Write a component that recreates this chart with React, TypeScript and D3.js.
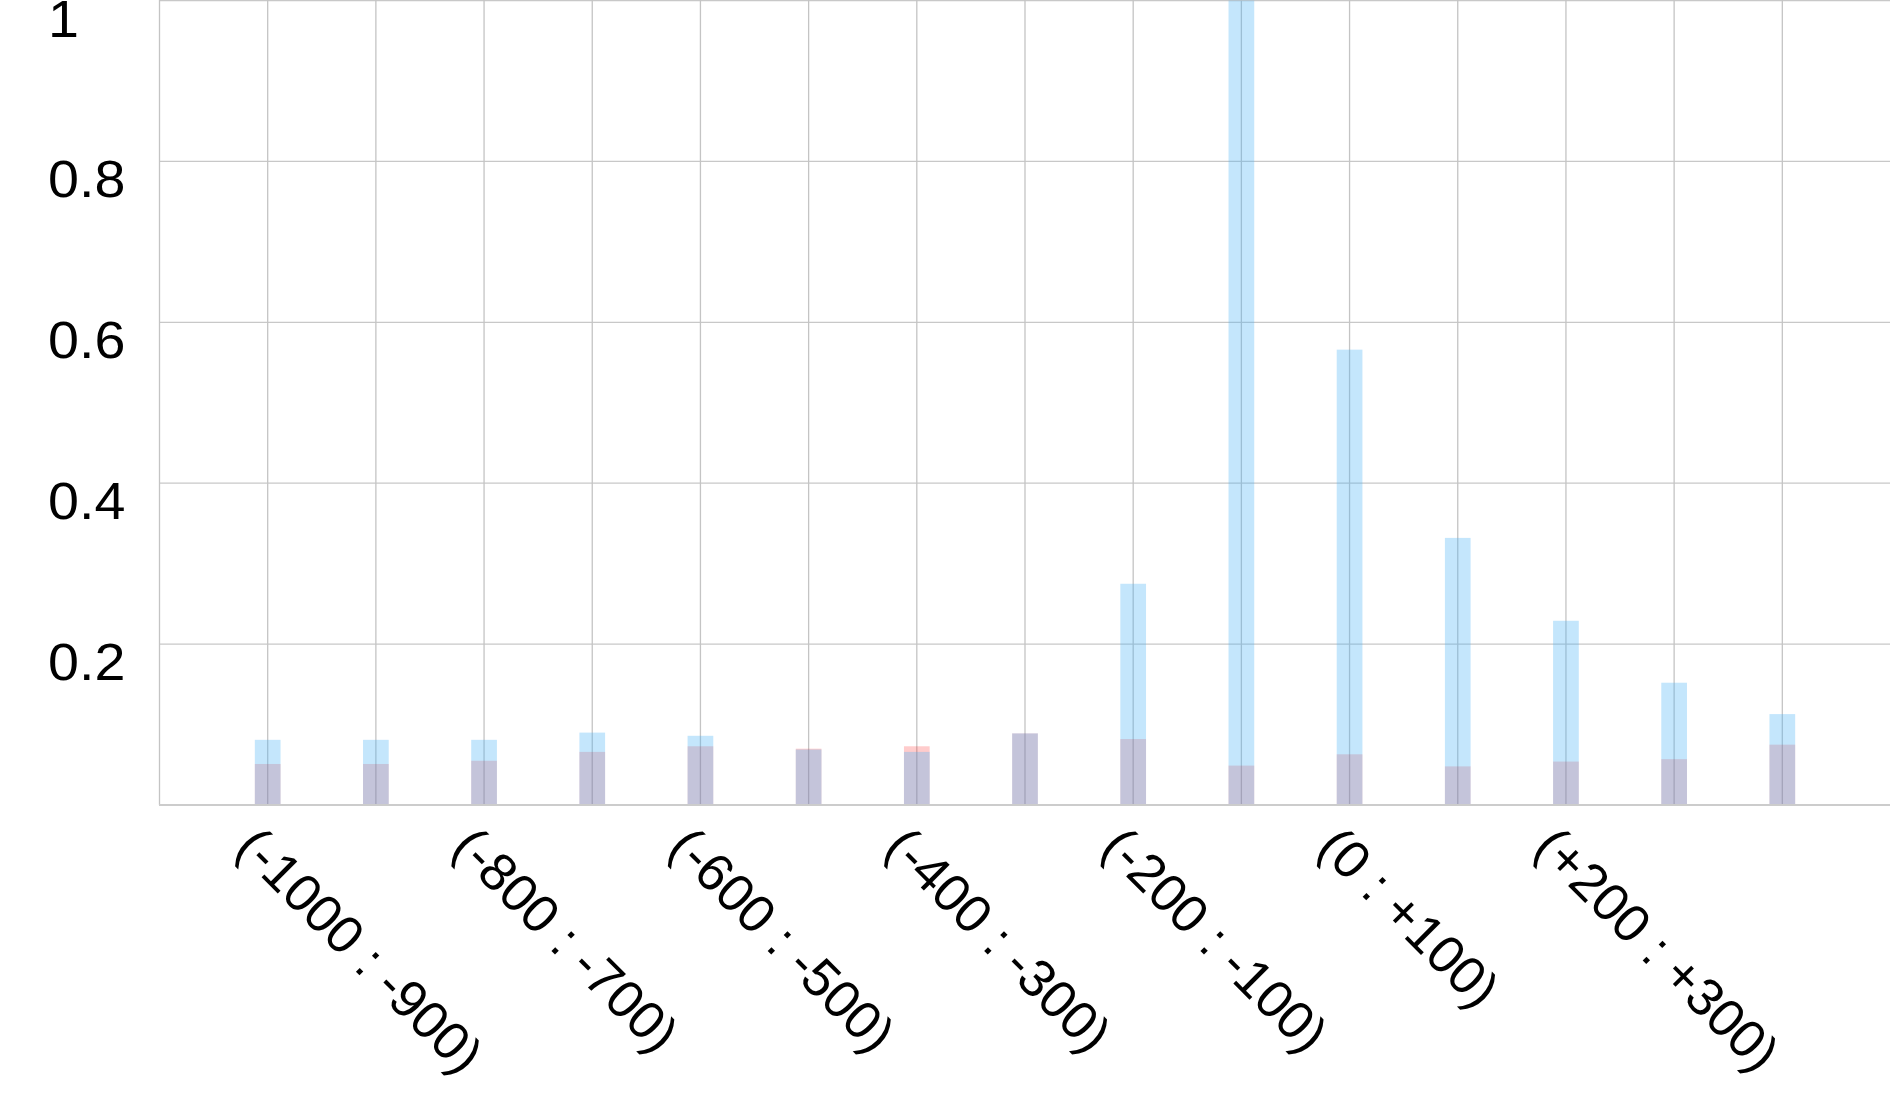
import React from "react";
import * as d3 from "d3";

const binStarts = [-1000, -900, -800, -700, -600, -500, -400, -300, -200, -100, 0, 100, 200, 300, 400];
const binLabels = [
  "(-1000 : -900)", "", "(-800 : -700)", "", "(-600 : -500)",
  "", "(-400 : -300)", "", "(-200 : -100)", "",
  "(0 : +100)", "", "(+200 : +300)", "", "",
];
const blueValues = [0.081, 0.081, 0.081, 0.090, 0.086, 0.069, 0.066, 0.089, 0.275, 1.0, 0.566, 0.332, 0.229, 0.152, 0.113];
const redValues = [0.051, 0.051, 0.055, 0.066, 0.073, 0.070, 0.073, 0.089, 0.082, 0.049, 0.063, 0.048, 0.054, 0.057, 0.075];
const yTicks = [0.2, 0.4, 0.6, 0.8, 1];
const gridXValues = [-1100, -1000, -900, -800, -700, -600, -500, -400, -300, -200, -100, 0, 100, 200, 300, 400];

const W = 1890;
const H = 1097;
const FONT = "'Liberation Sans', Arial, Helvetica, sans-serif";

export default function App() {
  const x = d3.scaleLinear().domain([-1100, 500]).range([159.5, 1890.5]);
  const y = d3.scaleLinear().domain([0, 1]).range([805, 0.5]);
  const barW = 25.7;

  return (
    <svg width={W} height={H} style={{ position: "absolute", left: 0, top: 0, display: "block", background: "#fff" }}>
      {yTicks.map((t) => (
        <line key={"h" + t} x1={159} x2={W} y1={y(t)} y2={y(t)} stroke="#c8c8c8" strokeWidth={1.3} />
      ))}
      {gridXValues.map((v) => (
        <line key={"v" + v} x1={x(v)} x2={x(v)} y1={0} y2={805} stroke="#c4c4c4" strokeWidth={1.3} />
      ))}
      {binStarts.map((b, i) => (
        <rect key={"r" + b} x={x(b) - barW / 2} width={barW} y={y(redValues[i])} height={y(0) - y(redValues[i])}
          fill="rgb(255,0,0)" fillOpacity={0.2} />
      ))}
      {binStarts.map((b, i) => (
        <rect key={"b" + b} x={x(b) - barW / 2} width={barW} y={y(blueValues[i])} height={y(0) - y(blueValues[i])}
          fill="rgb(76,179,246)" fillOpacity={0.33} />
      ))}
      <line x1={159} x2={W} y1={805} y2={805} stroke="#cccccc" strokeWidth={2} />
      {yTicks.map((t) => (
        <text key={"yl" + t} x={48} y={y(t) + 36} fontFamily={FONT} fontSize={52} fill="#000"
          transform={`translate(48,0) scale(1.07,1) translate(-48,0)`}>
          {String(t)}
        </text>
      ))}
      {binStarts.map((b, i) =>
        binLabels[i] ? (
          <text key={"xl" + b} fontFamily={FONT} fontSize={53} fill="#000"
            transform={`translate(${x(b) - 34},${849.6}) rotate(45)`}>
            {binLabels[i]}
          </text>
        ) : null
      )}
    </svg>
  );
}
